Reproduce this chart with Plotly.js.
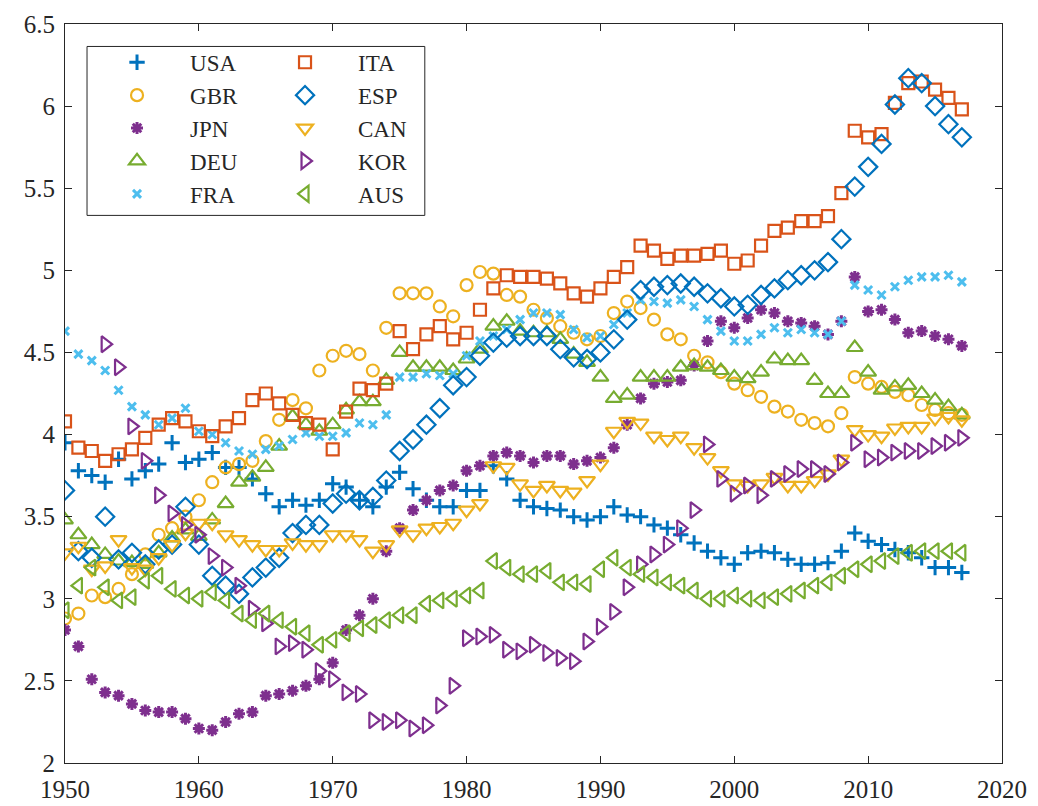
<!DOCTYPE html>
<html>
<head>
<meta charset="utf-8">
<script src="https://cdn.plot.ly/plotly-3.0.1.min.js"></script>
<style>
  html, body { margin: 0; padding: 0; background: #fff; }
  #chart { width: 1038px; height: 806px; }
</style>
</head>
<body>
<div id="chart"></div>
<script>
// Years 1950-2017 (Korea starts in 1953)
const years = [1950,1951,1952,1953,1954,1955,1956,1957,1958,1959,
  1960,1961,1962,1963,1964,1965,1966,1967,1968,1969,
  1970,1971,1972,1973,1974,1975,1976,1977,1978,1979,
  1980,1981,1982,1983,1984,1985,1986,1987,1988,1989,
  1990,1991,1992,1993,1994,1995,1996,1997,1998,1999,
  2000,2001,2002,2003,2004,2005,2006,2007,2008,2009,
  2010,2011,2012,2013,2014,2015,2016,2017];
const yearsKOR = years.slice(3);

const usa = [3.95,3.78,3.75,3.71,3.85,3.73,3.78,3.82,3.95,3.83,
  3.85,3.89,3.80,3.80,3.73,3.64,3.56,3.60,3.57,3.60,
  3.70,3.68,3.60,3.56,3.68,3.77,3.67,3.60,3.56,3.56,
  3.66,3.66,3.81,3.73,3.60,3.56,3.55,3.54,3.50,3.48,
  3.50,3.56,3.51,3.50,3.45,3.43,3.39,3.34,3.29,3.25,
  3.21,3.28,3.29,3.28,3.24,3.21,3.21,3.22,3.29,3.40,
  3.35,3.33,3.30,3.28,3.25,3.19,3.19,3.16];
const gbr = [2.88,2.91,3.02,3.01,3.06,3.15,3.27,3.39,3.43,3.50,
  3.60,3.71,3.80,3.82,3.84,3.96,4.09,4.21,4.16,4.39,
  4.48,4.51,4.49,4.39,4.65,4.86,4.86,4.86,4.78,4.72,
  4.91,4.99,4.98,4.85,4.84,4.76,4.71,4.66,4.62,4.58,
  4.60,4.74,4.81,4.77,4.70,4.61,4.58,4.48,4.44,4.38,
  4.31,4.27,4.23,4.17,4.14,4.09,4.07,4.05,4.13,4.35,
  4.31,4.29,4.26,4.24,4.18,4.15,4.13,4.12];
const jpn = [2.81,2.71,2.51,2.43,2.41,2.36,2.32,2.31,2.31,2.27,
  2.21,2.20,2.25,2.30,2.31,2.41,2.42,2.44,2.47,2.51,
  2.61,2.81,2.90,3.00,3.29,3.43,3.54,3.60,3.66,3.69,
  3.78,3.81,3.87,3.89,3.87,3.83,3.87,3.87,3.82,3.84,
  3.86,3.92,4.06,4.22,4.31,4.32,4.33,4.42,4.57,4.69,
  4.65,4.71,4.76,4.74,4.69,4.68,4.66,4.61,4.69,4.96,
  4.75,4.76,4.70,4.62,4.63,4.60,4.58,4.54];
const deu = [3.48,3.39,3.33,3.27,3.23,3.22,3.21,3.28,3.37,3.42,
  3.38,3.48,3.58,3.71,3.74,3.80,3.93,4.11,4.06,4.02,
  4.06,4.15,4.20,4.20,4.33,4.50,4.41,4.41,4.41,4.39,
  4.46,4.52,4.66,4.69,4.63,4.62,4.62,4.58,4.49,4.44,
  4.35,4.22,4.24,4.35,4.35,4.35,4.41,4.42,4.41,4.39,
  4.35,4.34,4.38,4.46,4.45,4.45,4.33,4.25,4.25,4.53,
  4.38,4.27,4.29,4.30,4.25,4.21,4.17,4.12];
const fra = [4.63,4.49,4.45,4.39,4.27,4.17,4.12,4.06,4.10,4.16,
  4.02,4.00,3.95,3.90,3.88,3.91,3.93,3.97,4.01,3.99,
  3.99,4.01,4.07,4.06,4.12,4.35,4.35,4.37,4.36,4.37,
  4.48,4.57,4.60,4.64,4.70,4.74,4.74,4.73,4.64,4.59,
  4.60,4.67,4.74,4.82,4.81,4.80,4.82,4.78,4.70,4.63,
  4.57,4.57,4.61,4.65,4.62,4.64,4.62,4.61,4.69,4.91,
  4.88,4.85,4.90,4.94,4.96,4.96,4.97,4.93];
const ita = [4.08,3.92,3.90,3.84,3.88,3.91,3.98,4.06,4.10,4.08,
  4.02,3.99,4.05,4.10,4.21,4.25,4.19,4.12,4.07,4.06,
  3.91,4.14,4.28,4.27,4.31,4.63,4.52,4.61,4.66,4.58,
  4.62,4.76,4.89,4.97,4.96,4.96,4.95,4.92,4.86,4.84,
  4.89,4.96,5.02,5.15,5.12,5.07,5.09,5.09,5.10,5.12,
  5.04,5.06,5.15,5.24,5.26,5.30,5.30,5.33,5.47,5.85,
  5.81,5.83,6.02,6.14,6.15,6.10,6.05,5.98];
const esp = [3.66,3.29,3.25,3.50,3.24,3.28,3.21,3.30,3.33,3.56,
  3.33,3.14,3.08,3.03,3.13,3.19,3.25,3.40,3.45,3.45,
  3.58,3.64,3.60,3.62,3.72,3.90,3.97,4.06,4.16,4.30,
  4.35,4.48,4.56,4.59,4.60,4.60,4.60,4.52,4.47,4.46,
  4.50,4.58,4.70,4.88,4.90,4.91,4.92,4.90,4.86,4.83,
  4.78,4.79,4.85,4.89,4.94,4.97,5.00,5.05,5.19,5.51,
  5.63,5.77,6.01,6.17,6.14,6.00,5.89,5.81];
const can = [3.28,3.32,3.18,3.20,3.36,3.19,3.18,3.25,3.33,3.40,
  3.46,3.46,3.39,3.36,3.33,3.30,3.30,3.34,3.33,3.33,
  3.39,3.39,3.36,3.29,3.33,3.42,3.39,3.43,3.44,3.46,
  3.54,3.58,3.81,3.80,3.70,3.66,3.69,3.66,3.65,3.72,
  3.82,4.02,4.08,4.07,3.99,3.97,3.99,3.92,3.86,3.78,
  3.70,3.69,3.70,3.74,3.69,3.69,3.72,3.76,3.85,4.03,
  4.00,3.99,4.04,4.05,4.05,4.10,4.11,4.09];
const kor = [4.55,4.41,4.05,3.84,3.63,3.52,3.45,
  3.39,3.26,3.19,3.08,2.94,2.85,2.71,2.73,2.69,2.56,
  2.51,2.43,2.42,2.26,2.25,2.26,2.21,2.23,2.35,2.47,
  2.76,2.77,2.78,2.69,2.68,2.72,2.67,2.64,2.62,2.74,
  2.83,2.92,3.07,3.21,3.27,3.33,3.43,3.54,3.94,3.73,
  3.64,3.69,3.63,3.73,3.76,3.79,3.79,3.76,3.83,3.95,
  3.85,3.86,3.89,3.90,3.90,3.93,3.95,3.98];
const aus = [2.93,3.08,3.19,3.07,2.99,3.01,3.11,3.14,3.06,3.02,
  3.00,3.04,2.99,2.91,2.87,2.91,2.87,2.83,2.79,2.72,
  2.75,2.79,2.82,2.84,2.87,2.90,2.90,2.97,2.99,3.00,
  3.02,3.05,3.23,3.19,3.15,3.15,3.17,3.10,3.10,3.09,
  3.18,3.25,3.19,3.15,3.13,3.10,3.08,3.05,3.00,3.00,
  3.02,3.00,2.99,3.01,3.03,3.05,3.08,3.10,3.14,3.18,
  3.21,3.23,3.26,3.28,3.29,3.29,3.29,3.28];

const xTicks = [1950,1960,1970,1980,1990,2000,2010,2020];
const yTicks = [2,2.5,3,3.5,4,4.5,5,5.5,6,6.5];
const yTickText = ['2','2.5','3','3.5','4','4.5','5','5.5','6','6.5'];

const C_BLUE = '#0072BD', C_ORANGE = '#D95319', C_YELLOW = '#EDB120',
      C_PURPLE = '#7E2F8E', C_GREEN = '#77AC30', C_CYAN = '#4DBEEE';

function series(name, x, y, symbol, color, size, lw, legend) {
  return {
    type: 'scatter', mode: 'markers', name: name, x: x, y: y,
    legend: legend, hoverinfo: 'skip',
    marker: { symbol: symbol, size: size, color: color,
              line: { color: color, width: lw } }
  };
}

const traces = [
  series('USA', years, usa, 'cross-thin-open', C_BLUE, 11, 3, 'legend'),
  series('GBR', years, gbr, 'circle-open', C_YELLOW, 12, 2.2, 'legend'),
  series('JPN', years, jpn, 'asterisk-open', C_PURPLE, 10, 3, 'legend'),
  series('DEU', years, deu, 'triangle-up-open', C_GREEN, 14, 2.2, 'legend'),
  series('FRA', years, fra, 'x-thin-open', C_CYAN, 8, 3, 'legend'),
  series('ITA', years, ita, 'square-open', C_ORANGE, 12, 2.2, 'legend2'),
  series('ESP', years, esp, 'diamond-open', C_BLUE, 14, 2.2, 'legend2'),
  series('CAN', years, can, 'triangle-down-open', C_YELLOW, 14, 2.2, 'legend2'),
  series('KOR', yearsKOR, kor, 'triangle-right-open', C_PURPLE, 14, 2.2, 'legend2'),
  series('AUS', years, aus, 'triangle-left-open', C_GREEN, 14, 2.2, 'legend2')
];

const AX = '#262626';
const FONT = 'Liberation Serif, serif';

const legendCommon = {
  bgcolor: 'rgba(0,0,0,0)', borderwidth: 0,
  font: { family: FONT, size: 23, color: AX },
  itemwidth: 96, tracegroupgap: 0,
  xref: 'paper', yref: 'paper', xanchor: 'left', yanchor: 'top'
};

const layout = {
  width: 1038, height: 806,
  paper_bgcolor: '#ffffff', plot_bgcolor: '#ffffff',
  margin: { l: 65, r: 36, t: 24, b: 43 },
  font: { family: FONT, size: 26, color: AX },
  showlegend: true,
  legend: Object.assign({}, legendCommon, { x: 0.0203, y: 0.9773 }),
  legend2: Object.assign({}, legendCommon, { x: 0.1996, y: 0.9773 }),
  xaxis: {
    range: [1950, 2020], tickvals: xTicks, ticktext: xTicks.map(String),
    ticks: 'inside', ticklen: 7, tickwidth: 1, tickcolor: AX,
    showline: true, linecolor: AX, linewidth: 1, mirror: 'ticks',
    showgrid: false, zeroline: false, ticklabelstandoff: 4,
    tickfont: { family: FONT, size: 25, color: AX }
  },
  yaxis: {
    range: [2, 6.5], tickvals: yTicks, ticktext: yTickText,
    ticks: 'inside', ticklen: 7, tickwidth: 1, tickcolor: AX,
    showline: true, linecolor: AX, linewidth: 1, mirror: 'ticks',
    showgrid: false, zeroline: false, ticklabelstandoff: 4,
    tickfont: { family: FONT, size: 25, color: AX }
  },
  shapes: [{
    type: 'rect', xref: 'paper', yref: 'paper',
    x0: 0.0235, x1: 0.384, y0: 0.741, y1: 0.9696,
    line: { color: AX, width: 1 }, fillcolor: 'rgba(0,0,0,0)', layer: 'above'
  }]
};

Plotly.newPlot('chart', traces, layout, { displayModeBar: false, staticPlot: true });
</script>
</body>
</html>
